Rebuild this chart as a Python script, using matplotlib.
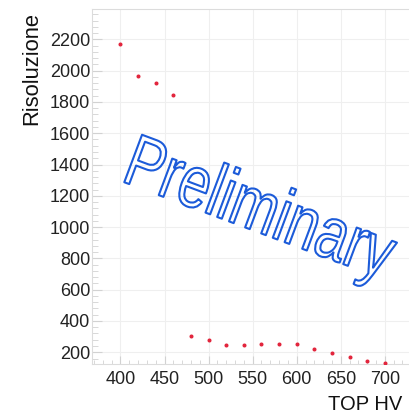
import matplotlib
matplotlib.use("Agg")
import matplotlib.pyplot as plt
from matplotlib import patheffects
from matplotlib.transforms import Affine2D
from matplotlib.ticker import MultipleLocator

# Resolution versus top high voltage
top_hv = [400, 420, 440, 460, 480, 500, 520, 540, 560, 580, 600, 620, 640, 660, 680, 700]
risoluzione = [2168, 1967, 1919, 1844, 304, 279, 247, 245, 255, 253, 253, 223, 197, 168, 146, 134]

x_title = "TOP HV"
y_title = "Risoluzione"
watermark = "Preliminary"

plt.rcParams["font.family"] = ["Liberation Sans", "DejaVu Sans"]


class TallOutline(patheffects.AbstractPathEffect):
    """Stroke the glyph outlines only, stretched perpendicular to the baseline."""

    def __init__(self, sy, color, lw):
        super().__init__()
        self.sy = sy
        self.color = color
        self.lw = lw

    def draw_path(self, renderer, gc, tpath, affine, rgbFace=None):
        gc0 = renderer.new_gc()
        gc0.copy_properties(gc)
        gc0.set_foreground(self.color)
        gc0.set_linewidth(self.lw)
        tr = Affine2D().scale(1.0, self.sy) + affine
        renderer.draw_path(gc0, tpath, tr, None)
        gc0.restore()


W, H = 410, 415
fig = plt.figure(figsize=(W / 100, H / 100), dpi=100)
fig.patch.set_facecolor("white")

left_px, right_px, top_px, bottom_px = 92.3, 411.3, 9.3, 364.3
ax = fig.add_axes([left_px / W, 1 - bottom_px / H,
                   (right_px - left_px) / W, (bottom_px - top_px) / H])

ax.plot(top_hv, risoluzione, linestyle="none", marker="o", markersize=1.9,
        markerfacecolor="#e2253c", markeredgecolor="#e2253c", zorder=3)

ax.set_xlim(368, 730)
ax.set_ylim(123, 2392)

ax.xaxis.set_major_locator(MultipleLocator(50))
ax.xaxis.set_minor_locator(MultipleLocator(10))
ax.yaxis.set_major_locator(MultipleLocator(200))
ax.yaxis.set_minor_locator(MultipleLocator(40))

ax.grid(True, which="major", color="#efefef", linewidth=0.8, zorder=0)
ax.set_axisbelow(True)

for side, sp in ax.spines.items():
    sp.set_color("#dcdcdc")
    sp.set_linewidth(0.8)

ax.tick_params(axis="both", which="both", direction="in", color="#d2d2d2",
               labelcolor="#222222", labelsize=13, top=False, right=False)
ax.tick_params(axis="x", which="major", length=6, pad=4.5)
ax.tick_params(axis="x", which="minor", length=3)
ax.tick_params(axis="y", which="major", length=7, pad=1.5)
ax.tick_params(axis="y", which="minor", length=4)

# Axis titles, aligned to the far ends of the axes
fig.text(402 / W, 1 - 410 / H, x_title, ha="right", va="baseline",
         fontsize=14.5, color="#111111")
fig.text(37.3 / W, 1 - 11.7 / H, y_title, rotation=90, rotation_mode="anchor",
         ha="right", va="baseline", fontsize=15.8, color="#111111")

# Hollow watermark across the plot area
ax.text(399.4, 1297, watermark, rotation=-20.5, rotation_mode="anchor",
        ha="left", va="baseline", fontsize=40.5, color="none", zorder=4,
        path_effects=[TallOutline(1.31, "#1c5bd9", 1.5)])

fig.savefig("out.png", dpi=100, facecolor="white")
